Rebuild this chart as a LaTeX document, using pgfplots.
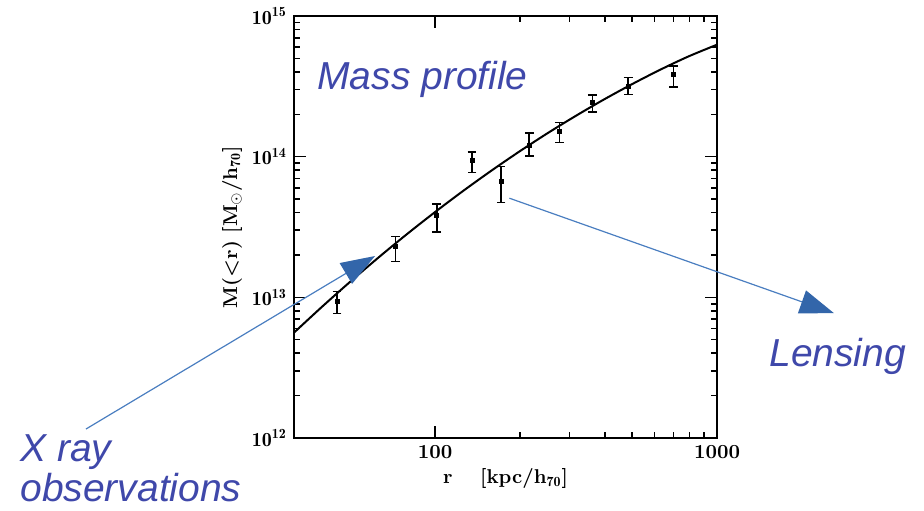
\documentclass[border=0pt]{standalone}
\usepackage{pgfplots}
\pgfplotsset{compat=1.18}
\usepackage{fontspec}
\newfontfamily\annot{Liberation Sans}
\usetikzlibrary{arrows.meta}
\definecolor{textblue}{RGB}{63,72,170}
\definecolor{lineblue}{RGB}{74,126,192}
\definecolor{headblue}{RGB}{51,102,170}
\pgfplotstableread{
x y ep em
44.9 9.4e12 1.6e12 1.7e12
72.4 2.29e13 0.41e13 0.49e13
101.4 3.85e13 0.75e13 0.95e13
135.3 9.46e13 1.34e13 1.76e13
171.5 6.64e13 1.86e13 1.91e13
215.8 1.21e14 2.6e13 2.0e13
276 1.52e14 2.3e13 2.6e13
361.5 2.43e14 3.1e13 3.6e13
484 3.18e14 4.8e13 4.1e13
700 3.86e14 5.7e13 7.2e13
}\datatable
\pgfplotstableread{
x y
31.62 5.61e12
39.81 8.59e12
50.12 1.295e13
63.10 1.922e13
79.43 2.808e13
100 4.036e13
125.9 5.713e13
158.5 7.955e13
199.5 1.090e14
251.2 1.472e14
316.2 1.954e14
398.1 2.555e14
501.2 3.287e14
631.0 4.163e14
794.3 5.17e14
1000 6.25e14
}\fittable
\begin{document}
\begin{tikzpicture}
\useasboundingbox (0,0) rectangle (462pt,255pt);
\begin{axis}[
  at={(147pt,36pt)}, anchor=south west,
  scale only axis, width=211.5pt, height=211pt,
  xmode=log, ymode=log,
  xmin=31.6228, xmax=1000, ymin=1e12, ymax=1e15,
  xtick={100,1000}, xticklabels={\textbf{100},\textbf{1000}},
  ytick={1e12,1e13,1e14,1e15},
  yticklabels={$\mathbf{10^{12}}$,$\mathbf{10^{13}}$,$\mathbf{10^{14}}$,$\mathbf{10^{15}}$},
  tick align=inside, tick pos=both,
  major tick length=6pt, minor tick length=3pt,
  axis line style={line width=1pt},
  every tick/.style={black, line width=0.8pt},
  tick label style={font=\fontsize{10}{12}\selectfont},
  xlabel={\textbf{r\quad\ [kpc/h$_{\mathbf{70}}$]}},
  ylabel={\textbf{M(<r)\ [M$_\odot$/h$_{\mathbf{70}}$]}},
  label style={font=\fontsize{10}{12}\selectfont},
  xlabel style={yshift=2pt},
  ylabel style={yshift=-2pt},
]
\addplot[black, line width=1pt, smooth, tension=0.5] table[x=x,y=y] {\fittable};
\addplot[black, only marks, mark=square*, mark size=1pt,
  error bars/.cd, y dir=both, y explicit,
  error mark options={black, line width=0.8pt, mark size=2.2pt, rotate=90},
  error bar style={line width=0.8pt}]
  table[x=x,y=y,y error plus=ep,y error minus=em] {\datatable};
\end{axis}
\draw[lineblue, line width=0.6pt, -{Triangle[length=17pt,width=12pt,color=headblue]}] (43pt,40.5pt) -- (187.5pt,127pt);
\draw[lineblue, line width=0.6pt, -{Triangle[length=17pt,width=12pt,color=headblue]}] (254.7pt,155.9pt) -- (417pt,98.4pt);
\node[anchor=base west, inner sep=0pt, text=textblue, font=\annot\itshape\fontsize{19.5}{22}\selectfont] at (158.5pt,210.5pt) {Mass profile};
\node[anchor=base west, inner sep=0pt, text=textblue, font=\annot\itshape\fontsize{19.5}{22}\selectfont] at (384.5pt,71.7pt) {Lensing};
\node[anchor=base west, inner sep=0pt, text=textblue, font=\annot\itshape\fontsize{19.5}{22}\selectfont] at (10pt,24.2pt) {X ray};
\node[anchor=base west, inner sep=0pt, text=textblue, font=\annot\itshape\fontsize{19.5}{22}\selectfont] at (10pt,4.5pt) {observations};
\end{tikzpicture}
\end{document}
